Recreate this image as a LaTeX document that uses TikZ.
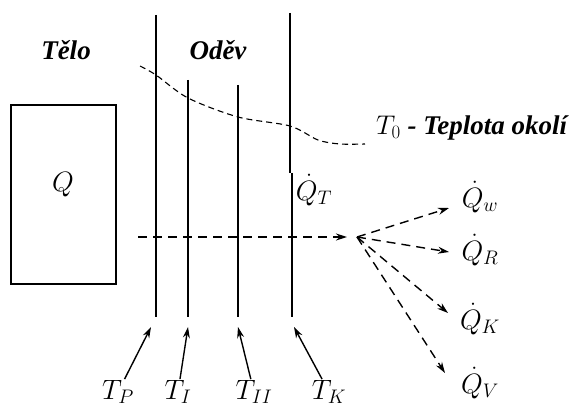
\RequirePackage{fix-cm}
\documentclass[tikz,border=0pt]{standalone}
\usepackage{fontspec}
\setmainfont{Liberation Serif}
\usetikzlibrary{arrows.meta}

\begin{document}
\begin{tikzpicture}[x=1pt,y=-1pt,
  wall/.style={line width=1.6pt},
  profile/.style={line width=1.1pt, dash pattern=on 6pt off 4pt},
  flow/.style={line width=1.4pt, dash pattern=on 9pt off 6pt, -{Stealth[length=11pt,width=7pt]}},
  point/.style={line width=1.4pt, -{Stealth[length=11pt,width=7pt]}},
  lbl/.style={font=\fontsize{27}{32}\selectfont\bfseries\itshape},
  sym/.style={font=\fontsize{28}{34}\selectfont, inner sep=1pt}]
\useasboundingbox (0,0) rectangle (574,412);

%---------------------------------------
% Body and clothing layers
%---------------------------------------
\def\xP{156}
\def\xI{188}
\def\xII{238}
\def\xK{290}
\def\yB{317}

\node[lbl] (telo) at (66,50) {Tělo};
\node[lbl] (odev) at (218,50) {Oděv};

\draw[wall] (11,105) rectangle (116,284);
\node[sym] (q) at (63,185) {$Q$};

% Layer boundaries
\coordinate (pTop) at (\xP,15);   \coordinate (pBot) at (\xP,\yB);
\coordinate (iTop) at (\xI,80);   \coordinate (iBot) at (\xI,\yB);
\coordinate (iiTop) at (\xII,85); \coordinate (iiBot) at (\xII,\yB);
\coordinate (kTop) at (\xK,13);   \coordinate (kMid) at (\xK,173);
\coordinate (kJog) at (\xK+2,173); \coordinate (kBot) at (\xK+2,\yB);

\draw[wall] (pTop) -- (pBot);
\draw[wall] (iTop) -- (iBot);
\draw[wall] (iiTop) -- (iiBot);
\draw[wall] (kTop) -- (kMid);
\draw[wall] (kJog) -- (kBot);

%---------------------------------------
% Temperature profile
%---------------------------------------
\draw[profile] plot[smooth, tension=0.5] coordinates
  {(140,66) (\xP,75) (\xI,98) (\xII,117) (\xK,126) (318,140) (340,144) (365,144)};
\node[anchor=west, lbl, inner sep=0pt] (okoli) at (376,128) {$T_0$ - Teplota okolí};

%---------------------------------------
% Heat flows
%---------------------------------------
\node[sym] (qt) at (314,190) {$\dot{Q}_T$};

\coordinate (src) at (138,237);
\coordinate (hub) at (347,237);
\coordinate (fan) at (357,237);
\draw[flow] (src) -- (hub);

\node[sym] (qw) at (480,197) {$\dot{Q}_w$};
\node[sym] (qr) at (480,250) {$\dot{Q}_R$};
\node[sym] (qk) at (480,319) {$\dot{Q}_K$};
\node[sym] (qv) at (480,383) {$\dot{Q}_V$};

\coordinate (qwTip) at (449,208);
\coordinate (qrTip) at (449,252);
\coordinate (qkTip) at (448,313);
\coordinate (qvTip) at (445,373);

\foreach \t in {qwTip,qrTip,qkTip,qvTip}
  \draw[flow] (fan) -- (\t);

%---------------------------------------
% Boundary temperatures
%---------------------------------------
\node[sym] (tp) at (118,392) {$T_P$};
\node[sym] (ti) at (178,392) {$T_I$};
\node[sym] (tii) at (254,392) {$T_{II}$};
\node[sym] (tk) at (329,392) {$T_K$};

\coordinate (pTip) at (151,327);
\coordinate (iTip) at (188,327);
\coordinate (iiTip) at (238,327);
\coordinate (kTip) at (294,327);

\draw[point] (tp) -- (pTip);
\draw[point] (ti) -- (iTip);
\draw[point] (tii) -- (iiTip);
\draw[point] (tk) -- (kTip);

\end{tikzpicture}
\end{document}
